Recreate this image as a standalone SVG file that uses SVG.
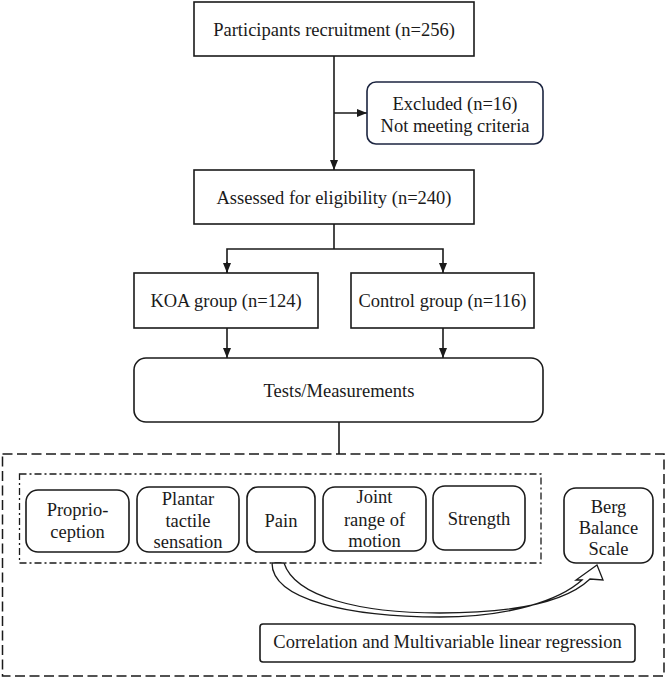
<svg xmlns="http://www.w3.org/2000/svg" width="669" height="680" viewBox="0 0 669 680">
<style>
.box{fill:#fff;stroke:#1a1a1a;stroke-width:1.6}
.nav{fill:#fff;stroke:#1c2540;stroke-width:1.6}
.t{font-family:"Liberation Serif","Times New Roman",serif;font-size:18.5px;fill:#1a1a1a;text-anchor:middle}
.ln{fill:none;stroke:#1a1a1a;stroke-width:1.6}
</style>
<defs>
<marker id="ah" markerUnits="userSpaceOnUse" markerWidth="10" markerHeight="8" refX="10" refY="4" orient="auto">
<path d="M0,0 L10,4 L0,8 z" fill="#1a1a1a"/>
</marker>
</defs>
<rect width="669" height="680" fill="#fff"/>

<g id="frames">
<rect x="2.5" y="454" width="661.5" height="222" fill="none" stroke="#1a1a1a" stroke-width="1.5" stroke-dasharray="10 4.5"/>
<rect x="19.5" y="474" width="521.5" height="89" fill="none" stroke="#1a1a1a" stroke-width="1.3" stroke-dasharray="7 3 2 3"/>
</g>

<g id="connectors">
<line class="ln" x1="334" y1="56" x2="334" y2="170" marker-end="url(#ah)"/>
<line class="ln" x1="334" y1="113" x2="367" y2="113" marker-end="url(#ah)"/>
<polyline class="ln" points="334,224 334,249"/>
<polyline class="ln" points="227,273 227,249 443,249 443,273" marker-end="url(#ah)"/>
<line class="ln" x1="227" y1="262" x2="227" y2="273" marker-end="url(#ah)"/>
<line class="ln" x1="227" y1="328" x2="227" y2="358" marker-end="url(#ah)"/>
<line class="ln" x1="443" y1="328" x2="443" y2="358" marker-end="url(#ah)"/>
<line class="ln" x1="339" y1="422" x2="339" y2="454"/>
<path d="M272,563 C272,600 350,617 440,617 C510,617 560,600 582,580 L576,580 L597,565 L603,580 L590,579 C565,603 510,613 440,613 C360,613 295,597 284,563 Z" fill="#fff" stroke="#1a1a1a" stroke-width="1.3" stroke-linejoin="miter"/>
</g>

<g id="recruit">
<rect class="box" x="194" y="2" width="280" height="54"/>
<text class="t" x="334" y="35.5">Participants recruitment (n=256)</text>
</g>
<g id="excluded">
<rect class="nav" x="367" y="82" width="176" height="62" rx="9"/>
<text class="t" x="455" y="110">Excluded (n=16)</text>
<text class="t" x="455" y="132">Not meeting criteria</text>
</g>
<g id="assessed">
<rect class="box" x="194" y="170" width="280" height="54"/>
<text class="t" x="334" y="204">Assessed for eligibility (n=240)</text>
</g>
<g id="koa">
<rect class="box" x="134" y="273" width="184" height="55"/>
<text class="t" x="226" y="307">KOA group (n=124)</text>
</g>
<g id="control">
<rect class="box" x="351" y="273" width="183" height="55"/>
<text class="t" x="442.5" y="307">Control group (n=116)</text>
</g>
<g id="tests">
<rect class="box" x="134" y="358" width="409" height="64" rx="12"/>
<text class="t" x="339" y="396.5">Tests/Measurements</text>
</g>

<g id="proprio">
<rect class="box" x="26" y="490" width="103" height="62" rx="12"/>
<text class="t" x="77.5" y="516">Proprio-</text>
<text class="t" x="77.5" y="538">ception</text>
</g>
<g id="plantar">
<rect class="box" x="137" y="487" width="102" height="65" rx="12"/>
<text class="t" x="188" y="505">Plantar</text>
<text class="t" x="188" y="526.5">tactile</text>
<text class="t" x="188" y="548">sensation</text>
</g>
<g id="pain">
<rect class="box" x="247" y="487" width="68" height="65" rx="11"/>
<text class="t" x="281" y="527">Pain</text>
</g>
<g id="joint">
<rect class="box" x="323" y="487" width="103" height="64" rx="12"/>
<text class="t" x="374.5" y="503">Joint</text>
<text class="t" x="374.5" y="525.5">range of</text>
<text class="t" x="374.5" y="547">motion</text>
</g>
<g id="strength">
<rect class="box" x="433" y="486" width="92" height="64" rx="12"/>
<text class="t" x="479" y="525">Strength</text>
</g>
<g id="berg">
<rect class="box" x="564" y="488" width="89" height="75" rx="12"/>
<text class="t" x="608.5" y="512.5">Berg</text>
<text class="t" x="608.5" y="533.5">Balance</text>
<text class="t" x="608.5" y="554.5">Scale</text>
</g>
<g id="correlation">
<rect class="box" x="260" y="624" width="375" height="38" rx="3"/>
<text class="t" x="447.5" y="648">Correlation and Multivariable linear regression</text>
</g>
</svg>
